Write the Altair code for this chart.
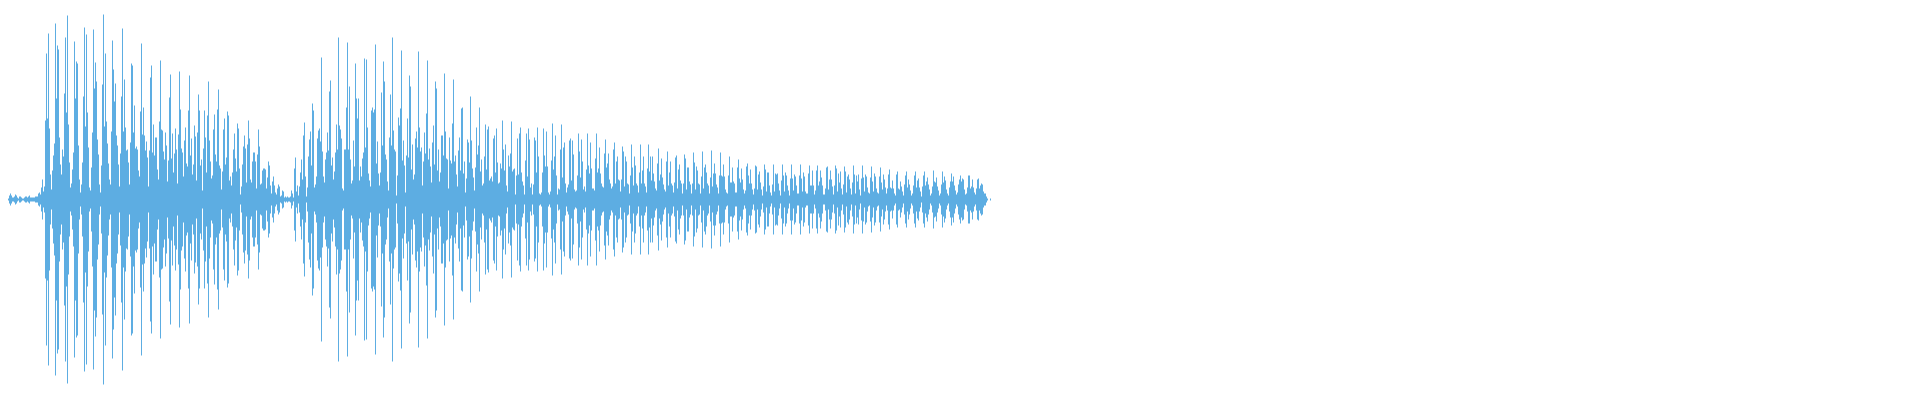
import altair as alt
import pandas as pd

# half-height of the symmetric waveform, one value per pixel column
amp_008 = [1,4,6,4,2,2,3,5,4,2,1,3,3,2,1,1,2,3,3,2,3,4]
amp_030 = [2,2,2,2,2,3,3,3,6,7,5,12,20,8,13,79,146,81,166,71,25,10,29,44,56,176,101,154,150,62,35,25,50,43,106,162,87,184,75,37,
           12,16,30,47,158,101,138,136,54,20,7,15,37,103,172,73,165,87,52,12,9,32,67,170,111,137,118,60,45,15,7,34,115,185,73,146,78,56,36,20,
           15,68,159,130,98,116,64,54,35,13,46,103,171,68,120]
amp_125 = [72,49,50,37,15,57,136,134,67,94,51,53,50,29,23,88,156,65,92,64,49,58,42,13,49,122,134,47,75,44,62,62,30,20,78,139,70,69,48,40,
           67,54,18,39,102,125,41,66,27,46,71,50,16,65,128,90,51,47,23,59,72,36,33,89,124,44,61,25,35,74,63,19,67,105,89,34,40,9,51,89,
           62,27,84,118,59,38,21,24,70,85,45,38,90,110,34]
amp_220 = [31,10,28,70,81,35,42,88,84,19,23,14,27,50,66,41,28,76,71,31,5,13,35,53,64,51,17,55,79,61,20,17,38,47,47,38,11,45,70,53,
           15,16,29,31,31,30,11,22,38,34,14,6,18,23,14,7,5,11,15,13,3,4,9,8,2,3,2,3,2,2,3,9,6,2,31,42,8,14,4,13,
           27,40,20,64,77,23,3,12,43,60,68,34,96,89,12]
amp_315 = [15,23,61,69,71,58,142,48,23,17,40,47,67,49,108,119,34,42,20,28,47,75,50,162,74,70,61,11,9,50,50,92,157,50,113,40,16,19,59,33,
           136,101,81,101,19,33,23,41,47,141,52,140,72,26,19,13,89,92,87,90,155,36,58,26,14,27,107,54,138,118,45,40,18,9,62,105,54,162,69,50,
           48,4,24,82,74,91,149,39,59,34,7,44,81,42,124]
amp_410 = [113,30,55,20,25,61,68,52,148,72,48,52,14,38,67,46,86,139,40,51,33,17,57,74,35,118,111,29,50,18,27,64,64,44,126,68,41,40,11,62,
           39,36,76,120,38,44,25,13,49,62,29,91,92,26,38,7,21,60,57,37,103,59,31,22,9,32,72,45,54,92,28,40,14,16,43,75,30,70,73,19,
           21,23,18,61,64,27,71,37,16,17,36,31,79,50,29]
amp_505 = [55,14,8,44,33,46,78,28,30,31,5,24,61,25,66,72,27,18,14,5,39,66,23,71,60,12,16,5,15,62,59,27,72,43,6,5,7,27,71,44,
           33,68,33,7,5,8,39,76,30,43,64,24,5,11,10,50,75,22,52,57,16,7,12,15,59,61,19,59,45,10,8,9,24,66,48,22,60,38,10,13,
           8,30,66,34,26,57,31,11,11,9,41,66,27,31,52,26,16,13,12,46,60,32,36,46,20,16,11,13,50,57,16,38,43,20,19,8,20,53,48,13,
           43,38,16,15,6,24,55,32,14,43,34,16,14,7,27,55,16,29,43,16,13,7,31,55,28,43,19,43,26,18,11,9,36,51,19,25,41,22,15,10]
amp_665 = [8,38,48,14,27,38,16,14,7,17,42,44,11,30,35,19,16,6,16,45,41,10,32,32,18,15,6,16,47,37,10,33,29,16,15,6,23,48,11,32,
           35,27,16,14,6,22,49,13,26,36,26,15,12,6,24,47,24,23,35,23,10,7,6,24,43,17,17,32,18,16,7,7,32,40,21,17,31,20,10,6,
           9,33,36,24,16,30,16,10,5,11,34,33,10,25,28,17,10,4,13,35,30,8,27,27,14,7,4,15,35,8,26,25,26,16,9,4,19,35,24,8,
           27,24,14,9,4,21,35,21,9,25,23,14,6,6,24,35,21,8,27,23,8,6,6,26,34,14,14,29,14,5,9,29,34,14,18,29,22,14,5,5]
amp_825 = [11,32,33,10,20,29,20,13,5,14,34,31,8,26,17,28,11,5,15,33,28,7,23,25,20,11,5,17,34,25,6,24,18,25,10,4,21,34,22,8,
           25,23,12,7,6,22,33,18,8,26,23,11,7,6,23,32,17,10,25,20,12,6,11,25,30,12,11,19,11,6,4,25]
amp_897 = [28,11,10,18,13,8,4,15,24,28,12,20,15,9,4,6,14,24,28,12,19,21,12,8,3,13,24,28,14,18,22,15,10,4,6,13,29,18,17,22,
           13,9,4,6,15,28,17,23,19,10,6,4,12,18,26,18,23,14,9,5,7,15,20,24,18,21,20,10,5,6,12,24,24,11,13,20,12,7,5,11,
           20,21,11,14,16,15,8,6,6,3,1,0,0,1]

segments = [(8, amp_008), (30, amp_030), (125, amp_125), (220, amp_220), (315, amp_315),
            (410, amp_410), (505, amp_505), (665, amp_665), (825, amp_825), (897, amp_897)]

columns, amps = [], []
for start, values in segments:
    for i, v in enumerate(values):
        columns.append(start + i)
        amps.append(v)

df = pd.DataFrame({"col": columns, "amp": amps})
df = df[df["amp"] > 0]
df["neg"] = -df["amp"]

chart = (
    alt.Chart(df)
    .mark_rule(color="#5dade2", strokeWidth=1)
    .encode(
        x=alt.X("col:Q", axis=None, scale=alt.Scale(domain=[7.5, 1911.5], nice=False, zero=False)),
        y=alt.Y("amp:Q", axis=None, scale=alt.Scale(domain=[-191.5, 191.5], nice=False, zero=False)),
        y2="neg:Q",
    )
    .properties(width=1904, height=383, padding=0, background="white")
    .configure_view(strokeWidth=0)
)

chart.save("out.html", embed_options={"renderer": "svg", "actions": False})
